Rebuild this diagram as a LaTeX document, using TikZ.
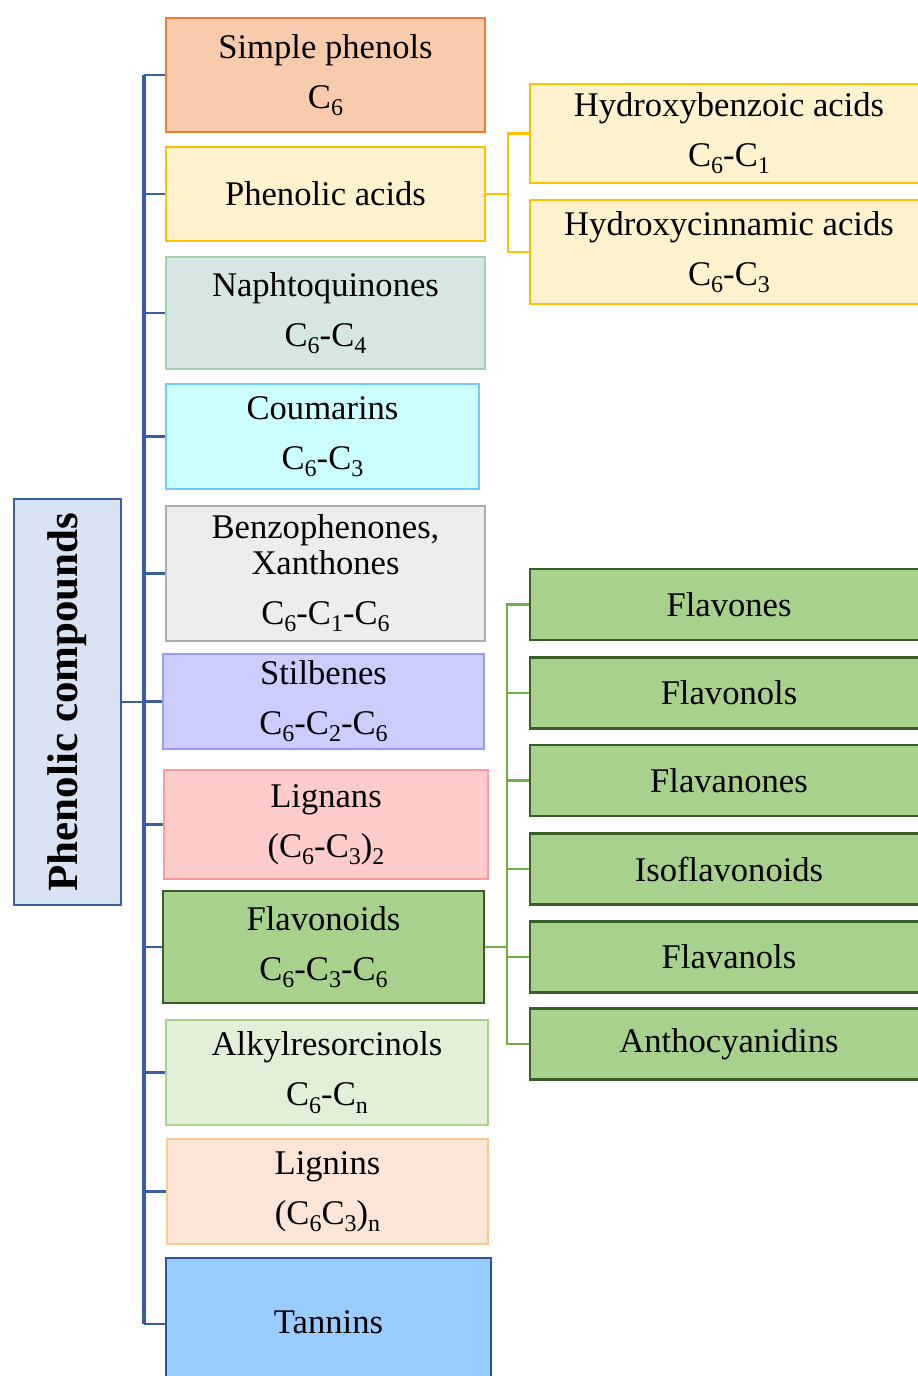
\documentclass[tikz,border=0pt]{standalone}
\usepackage{fontspec}
\setmainfont{Liberation Serif}
\newcommand{\sbs}[1]{\raisebox{-3.6pt}{\fontsize{12}{12}\selectfont #1}}
\definecolor{spF}{HTML}{F8CBAD}\definecolor{spD}{HTML}{ED7D31}
\definecolor{paF}{HTML}{FFF2CC}\definecolor{paD}{HTML}{FFC000}
\definecolor{nqF}{HTML}{D5E6E3}\definecolor{nqD}{HTML}{A8D0B0}
\definecolor{cmF}{HTML}{CCFFFF}\definecolor{cmD}{HTML}{6FCBFF}
\definecolor{bzF}{HTML}{EDEDED}\definecolor{bzD}{HTML}{AFABAB}
\definecolor{stF}{HTML}{CCCCFF}\definecolor{stD}{HTML}{9999FF}
\definecolor{lgF}{HTML}{FFCCCC}\definecolor{lgD}{HTML}{FF9999}
\definecolor{foF}{HTML}{A9D18E}\definecolor{foD}{HTML}{3B5E28}
\definecolor{akF}{HTML}{E2F0D9}\definecolor{akD}{HTML}{A9D18E}
\definecolor{lnF}{HTML}{FBE5D6}\definecolor{lnD}{HTML}{FFC88F}
\definecolor{tnF}{HTML}{99CCFF}\definecolor{tnD}{HTML}{2F5597}
\definecolor{pcF}{HTML}{DAE3F3}\definecolor{pcD}{HTML}{3A5FA0}
\definecolor{trunkC}{HTML}{3A5FA0}
\definecolor{greenC}{HTML}{70AD47}
\definecolor{yellowC}{HTML}{FFC000}
\tikzset{
  box/.style={rectangle, inner sep=0pt, line width=1.3pt, align=center,
    font=\fontsize{17.3}{18}\selectfont, text=black},
  trunkline/.style={draw=trunkC, line width=1.7pt},
  branchline/.style={draw=trunkC, line width=1.2pt},
  greenline/.style={draw=greenC, line width=1.1pt},
  yellowline/.style={draw=yellowC, line width=1.3pt},
}
\begin{document}
\begin{tikzpicture}[x=0.5pt,y=-0.5pt]
\useasboundingbox (0,0) rectangle (917,1376);
% left column
\node[box, fill=spF, draw=spD, minimum width=159.5pt, minimum height=57pt] (sp) at (325.5,75) {Simple phenols\\[7pt]C\sbs{6}};
\node[box, fill=paF, draw=paD, minimum width=159.5pt, minimum height=47pt] (pa) at (325.5,194) {Phenolic acids};
\node[box, fill=nqF, draw=nqD, minimum width=159.5pt, minimum height=56pt] (nq) at (325.5,313) {Naphtoquinones\\[7pt]C\sbs{6}-C\sbs{4}};
\node[box, fill=cmF, draw=cmD, minimum width=156.5pt, minimum height=52.5pt] (cm) at (322.5,436.5) {Coumarins\\[7pt]C\sbs{6}-C\sbs{3}};
\node[box, fill=bzF, draw=bzD, minimum width=159.5pt, minimum height=67.5pt] (bz) at (325.5,573.5) {Benzophenones,\\Xanthones\\[7pt]C\sbs{6}-C\sbs{1}-C\sbs{6}};
\node[box, fill=stF, draw=stD, minimum width=160.5pt, minimum height=47.5pt] (st) at (323.5,701.5) {Stilbenes\\[7pt]C\sbs{6}-C\sbs{2}-C\sbs{6}};
\node[box, fill=lgF, draw=lgD, minimum width=162pt, minimum height=54.5pt] (lg) at (326,824.5) {Lignans\\[7pt](C\sbs{6}-C\sbs{3})\sbs{2}};
\node[box, fill=foF, draw=foD, minimum width=160.5pt, minimum height=56pt] (fo) at (323.5,947) {Flavonoids\\[7pt]C\sbs{6}-C\sbs{3}-C\sbs{6}};
\node[box, fill=akF, draw=akD, minimum width=161pt, minimum height=52.5pt] (ak) at (327,1072.5) {Alkylresorcinols\\[7pt]C\sbs{6}-C\sbs{n}};
\node[box, fill=lnF, draw=lnD, minimum width=160.5pt, minimum height=52.5pt] (ln) at (327.5,1191.5) {Lignins\\[7pt](C\sbs{6}C\sbs{3})\sbs{n}};
\node[box, fill=tnF, draw=tnD, minimum width=162.5pt, minimum height=66pt, text depth=0pt] (tn) at (328.5,1324) {\raisebox{2pt}{Tannins}};
% root
\node[box, fill=pcF, draw=pcD, minimum width=53.5pt, minimum height=203pt] (pc) at (67.5,702) {};
\node[rotate=90, font=\fontsize{21.5}{22}\bfseries\selectfont] (pct) at (pc.center) {Phenolic compounds};
% right: phenolic acids
\node[box, fill=paF, draw=paD, minimum width=199pt, minimum height=49.5pt] (hb) at (729,133.5) {Hydroxybenzoic acids\\[7pt]C\sbs{6}-C\sbs{1}};
\node[box, fill=paF, draw=paD, minimum width=199pt, minimum height=52pt] (hc) at (729,252) {Hydroxycinnamic acids\\[7pt]C\sbs{6}-C\sbs{3}};
% right: flavonoids
\node[box, fill=foF, draw=foD, minimum width=199pt, minimum height=35.5pt] (f1) at (729,604.5) {Flavones};
\node[box, fill=foF, draw=foD, minimum width=199pt, minimum height=35.5pt] (f2) at (729,693) {Flavonols};
\node[box, fill=foF, draw=foD, minimum width=199pt, minimum height=35.5pt] (f3) at (729,780.5) {Flavanones};
\node[box, fill=foF, draw=foD, minimum width=199pt, minimum height=35.5pt] (f4) at (729,869) {Isoflavonoids};
\node[box, fill=foF, draw=foD, minimum width=199pt, minimum height=35.5pt] (f5) at (729,957) {Flavanols};
\node[box, fill=foF, draw=foD, minimum width=199pt, minimum height=35.5pt] (f6) at (729,1044) {Anthocyanidins};
% connectors
\coordinate (T) at (144,0);
\coordinate (A) at (508,0);
\coordinate (G) at (507,0);
\draw[trunkline] (sp.west -| T) -- (tn.west -| T);
\foreach \n in {sp,pa,nq,cm,bz,st,lg,fo,ak,ln,tn} {\draw[branchline] (\n.west) -- (\n.west -| T);}
\draw[branchline] (pc.east) -- (pc.east -| T);
\draw[yellowline] (pa.east) -- (pa.east -| A);
\draw[yellowline] (hb.west) -- (hb.west -| A) -- (hc.west -| A) -- (hc.west);
\draw[greenline] (f1.west) -- (f1.west -| G) -- (f6.west -| G) -- (f6.west);
\foreach \n in {f2,f3,f4,f5} {\draw[greenline] (\n.west) -- (\n.west -| G);}
\draw[greenline, line width=1.4pt] (fo.east) -- (fo.east -| G);
\end{tikzpicture}
\end{document}
